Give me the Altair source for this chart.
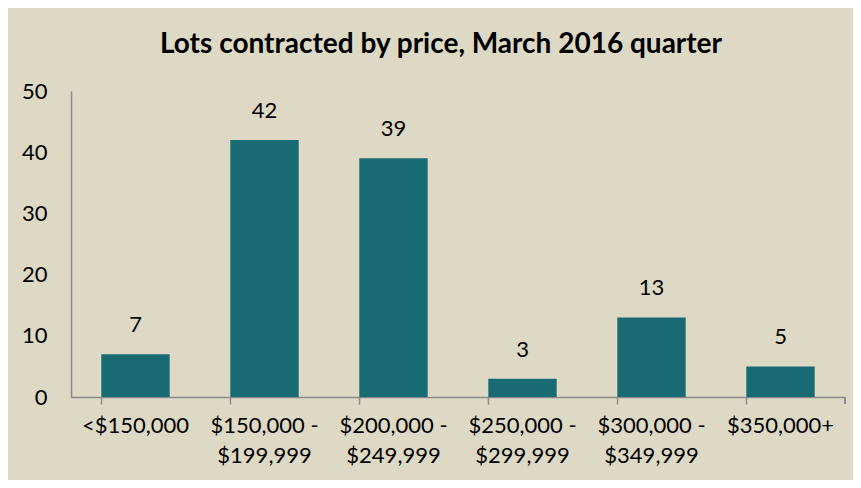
import altair as alt
import pandas as pd

categories = ["<$150,000", "$150,000 - $199,999", "$200,000 - $249,999",
              "$250,000 - $299,999", "$300,000 - $349,999", "$350,000+"]
lots = [7, 42, 39, 3, 13, 5]
y_ticks = [0, 10, 20, 30, 40, 50]
title_text = "Lots contracted by price, March 2016 quarter"

df = pd.DataFrame({"category": categories, "lots": lots})

FONT = "Lato"
BG = "#DDD9C4"
BAR = "#186B72"
AXIS_GRAY = "#8C8C8C"
W, H = 774, 306

x_enc = alt.X(
    "category:N", sort=categories, title=None,
    scale=alt.Scale(paddingInner=0.47, paddingOuter=0.235),
    axis=alt.Axis(
        labelAngle=0, labelFont=FONT, labelFontSize=22, labelColor="#000000",
        labelLineHeight=30, labelPadding=11, labelBaseline="top",
        labelExpr="split(replace(datum.label, ' - ', ' -|'), '|')",
        bandPosition=0, ticks=True, tickSize=7, tickColor=AXIS_GRAY, tickWidth=1.5,
        domainColor=AXIS_GRAY, domainWidth=1.5, grid=False,
    ),
)
y_enc = alt.Y(
    "lots:Q", title=None,
    scale=alt.Scale(domain=[0, 50], nice=False),
    axis=alt.Axis(
        values=y_ticks, labelFont=FONT, labelFontSize=22, labelColor="#000000",
        labelPadding=24, ticks=False, domainColor=AXIS_GRAY, domainWidth=1.5,
        grid=False,
    ),
)

bars = alt.Chart(df).mark_bar(color=BAR).encode(x=x_enc, y=y_enc)

labels = alt.Chart(df).mark_text(
    font=FONT, fontSize=22, color="#000000", baseline="alphabetic", dy=-22
).encode(x=alt.X("category:N", sort=categories), y="lots:Q", text="lots:Q")

# closing tick at the right end of the x axis (decoration)
end_tick = alt.Chart(df).mark_rule(color=AXIS_GRAY, strokeWidth=1.5).encode(
    x=alt.value(W), y=alt.value(H), y2=alt.value(H + 7)
)

chart = alt.layer(bars, labels, end_tick).properties(
    width=W, height=H,
    title=alt.TitleParams(title_text, font=FONT, fontSize=28, fontWeight="bold",
                          color="#000000", anchor="middle", offset=21, dx=-17),
    background=BG,
    padding={"left": 63, "top": 83, "right": 8, "bottom": 83},
    autosize=alt.AutoSizeParams(type="none"),
).configure_view(stroke=None)

chart.save("out.html", embed_options={"renderer": "svg", "actions": False})
